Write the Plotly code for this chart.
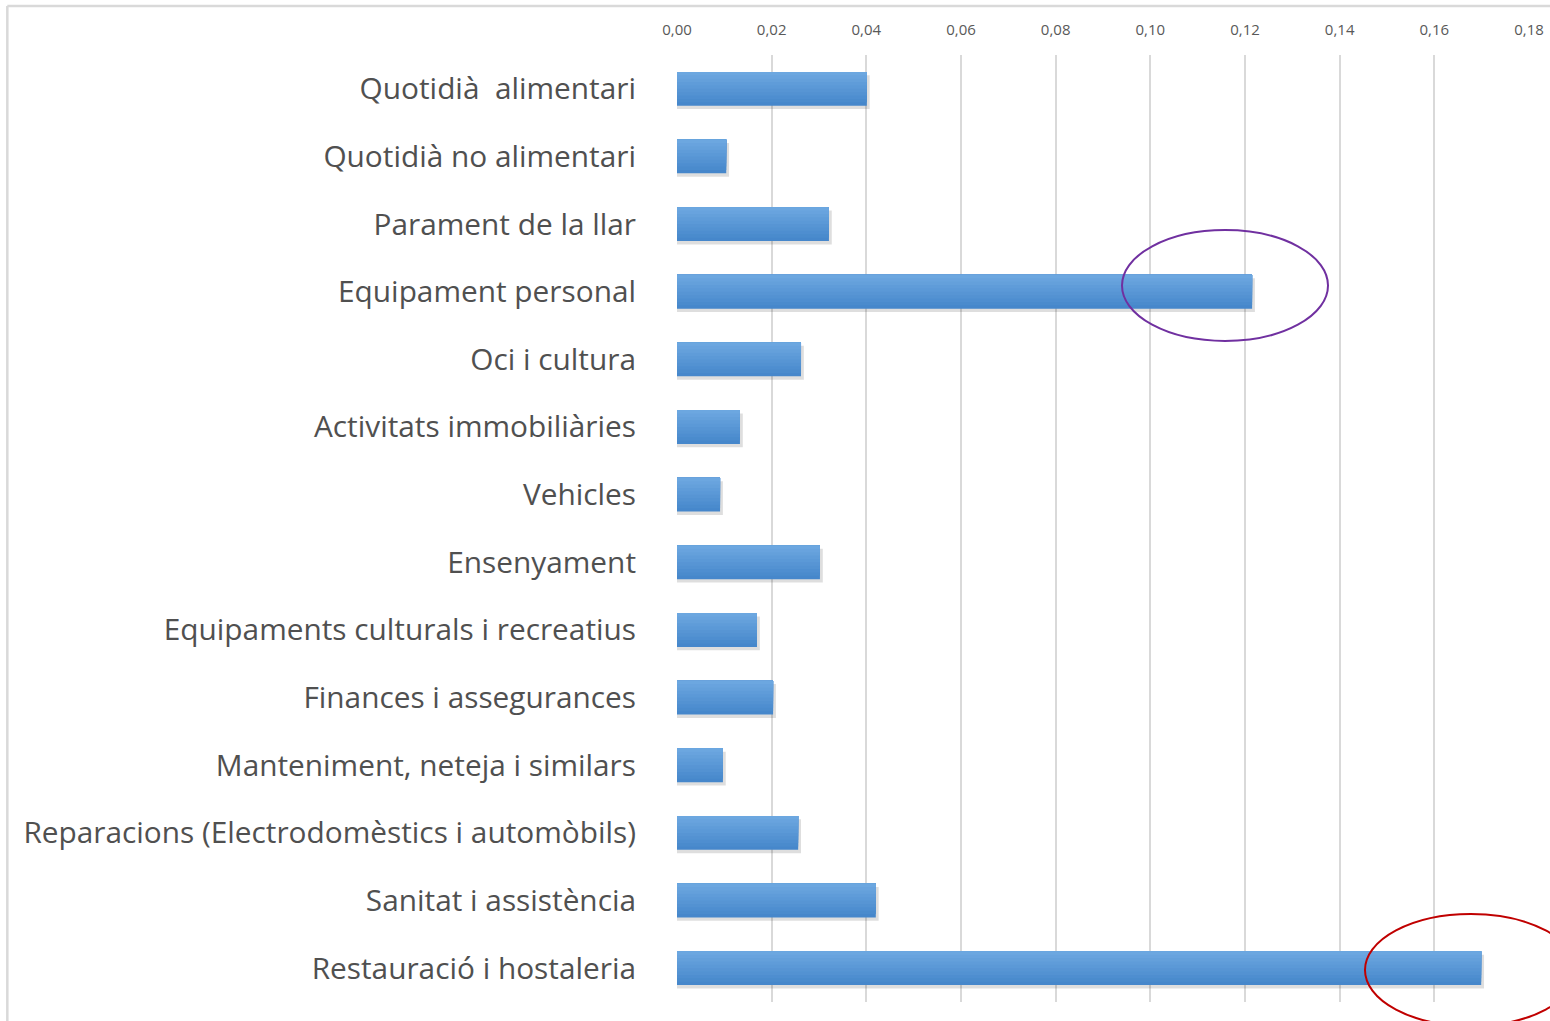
import plotly.graph_objects as go

# categories (top to bottom) and their values
categories = ['Quotidià  alimentari', 'Quotidià no alimentari', 'Parament de la llar',
              'Equipament personal', 'Oci i cultura', 'Activitats immobiliàries',
              'Vehicles', 'Ensenyament', 'Equipaments culturals i recreatius',
              'Finances i assegurances', 'Manteniment, neteja i similars',
              'Reparacions (Electrodomèstics i automòbils)', 'Sanitat i assistència',
              'Restauració i hostaleria']
values = [0.0401, 0.0104, 0.0321, 0.1215, 0.0262, 0.0133, 0.0091,
          0.0302, 0.0169, 0.0203, 0.0097, 0.0256, 0.0420, 0.1699]
tick_vals = [0, 0.02, 0.04, 0.06, 0.08, 0.10, 0.12, 0.14, 0.16, 0.18]

fig = go.Figure()

# soft drop shadow under the bars
fig.add_trace(go.Bar(
    x=[v + 0.0006 for v in values], y=categories, orientation='h',
    width=0.5, offset=-0.2,
    marker=dict(color='rgba(0,0,0,0.13)', line=dict(width=0)),
    hoverinfo='skip', showlegend=False,
))

# bars: stacked overlays anchored at the top edge, each shorter and lighter,
# to fake the light-to-dark vertical gradient
top_rgb, bottom_rgb = (108, 167, 224), (70, 135, 203)
n_layers = 10
for i in range(n_layers):
    t = i / (n_layers - 1)
    rgb = tuple(round(b + (a - b) * t) for a, b in zip(top_rgb, bottom_rgb))
    fig.add_trace(go.Bar(
        x=values, y=categories, orientation='h',
        width=0.5 * (1 - i / n_layers), offset=-0.25,
        marker=dict(color='rgb(%d,%d,%d)' % rgb, line=dict(width=0)),
        hoverinfo='skip' if i else None, showlegend=False,
    ))

fig.update_layout(
    width=1550, height=1021,
    margin=dict(l=677, r=21, t=55, b=19),
    paper_bgcolor='white', plot_bgcolor='white',
    barmode='overlay',
    separators=',.',
    font=dict(family='Open Sans, sans-serif', color='#505050'),
    xaxis=dict(
        side='top', range=[0, 0.18], tickvals=tick_vals, tickformat='.2f',
        showgrid=True, gridcolor='#D9D9D9', gridwidth=1.5,
        zeroline=False, showline=False, automargin=False,
        tickfont=dict(size=15, color='#595959'),
        ticks='', ticklabelstandoff=16,
    ),
    yaxis=dict(
        autorange='reversed', showgrid=False, zeroline=False, showline=False,
        automargin=False,
        tickfont=dict(size=29.8, color='#505050'),
        ticks='', ticklabelstandoff=40,
    ),
    shapes=[
        # outer frame (top and left edges)
        dict(type='line', xref='paper', yref='paper', x0=-0.786, x1=1.03, y0=1.0517, y1=1.0517,
             line=dict(color='#D9D9D9', width=2.5)),
        dict(type='line', xref='paper', yref='paper', x0=-0.786, x1=-0.786, y0=1.0517, y1=-0.03,
             line=dict(color='#D9D9D9', width=2.5)),
        # highlight ellipses
        dict(type='circle', xref='paper', yref='paper', x0=0.5223, x1=0.7641, y0=0.698, y1=0.8152,
             line=dict(color='#7030A0', width=2)),
        dict(type='circle', xref='paper', yref='paper', x0=0.8075, x1=1.056, y0=-0.0253, y1=0.0929,
             line=dict(color='#C00000', width=2)),
    ],
)

fig.write_html("out.html", config={'displayModeBar': False},
               post_script="document.body.style.margin='0';")
